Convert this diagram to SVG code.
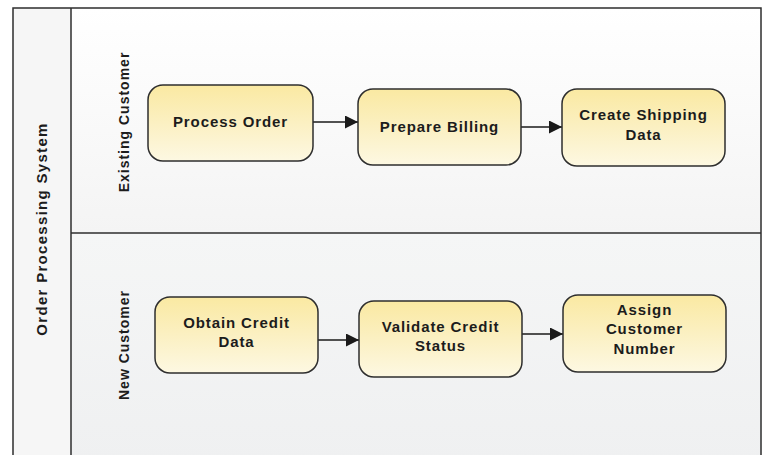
<svg xmlns="http://www.w3.org/2000/svg" width="763" height="455" viewBox="0 0 763 455">
<defs>
<linearGradient id="nodeFill" x1="0" y1="0" x2="0" y2="1">
<stop offset="0" stop-color="#fae9a2"/>
<stop offset="0.5" stop-color="#fbf0c2"/>
<stop offset="1" stop-color="#fdf8e2"/>
</linearGradient>
<linearGradient id="lane1" x1="0" y1="0" x2="0" y2="1">
<stop offset="0" stop-color="#ffffff"/>
<stop offset="1" stop-color="#f4f4f4"/>
</linearGradient>
<linearGradient id="lane2" x1="0" y1="0" x2="0" y2="1">
<stop offset="0" stop-color="#f5f6f6"/>
<stop offset="1" stop-color="#eff0f1"/>
</linearGradient>
<marker id="arrow" viewBox="0 0 13 13" refX="13" refY="6.5" markerWidth="13" markerHeight="13" markerUnits="userSpaceOnUse" orient="auto">
<path d="M0,0 L13,6.5 L0,13 Z" fill="#1a1a1a"/>
</marker>
<style>
.node rect{fill:url(#nodeFill);stroke:#2e2e2e;stroke-width:1.5}
.node text{font-family:"Liberation Sans",Arial,sans-serif;font-weight:bold;font-size:15px;letter-spacing:0.9px;fill:#1c1c1c;text-anchor:middle}
.lbl{font-family:"Liberation Sans",Arial,sans-serif;font-weight:bold;fill:#1c1c1c;text-anchor:middle}
.conn line{stroke:#1a1a1a;stroke-width:1.3;marker-end:url(#arrow)}
</style>
</defs>
<g id="pool">
<rect x="13" y="8" width="748" height="460" fill="#f6f6f6" stroke="none"/>
<rect x="71" y="8" width="690" height="225" fill="url(#lane1)"/>
<rect x="71" y="233" width="690" height="230" fill="url(#lane2)"/>
<rect x="13" y="8" width="748" height="460" fill="none" stroke="#2e2e2e" stroke-width="1.5"/>
<line x1="71" y1="8" x2="71" y2="455" stroke="#2e2e2e" stroke-width="1.5"/>
<line x1="71" y1="233" x2="761" y2="233" stroke="#2e2e2e" stroke-width="1.5"/>
<text class="lbl" font-size="15" letter-spacing="1.3" transform="translate(47,229) rotate(-90)">Order Processing System</text>
</g>
<g id="lane-existing">
<text class="lbl" font-size="14" letter-spacing="1" transform="translate(129,122) rotate(-90)">Existing Customer</text>
</g>
<g id="lane-new">
<text class="lbl" font-size="14" letter-spacing="1" transform="translate(129,345) rotate(-90)">New Customer</text>
</g>
<g class="conn" id="connectors">
<line x1="313" y1="122" x2="358" y2="122"/>
<line x1="521" y1="127" x2="562" y2="127"/>
<line x1="318" y1="340" x2="359" y2="340"/>
<line x1="522" y1="334" x2="563" y2="334"/>
</g>
<g class="node" id="process-order">
<rect x="148" y="85" width="165" height="76" rx="15"/>
<text x="230.5" y="127">Process Order</text>
</g>
<g class="node" id="prepare-billing">
<rect x="358" y="89" width="163" height="76" rx="15"/>
<text x="439.5" y="132">Prepare Billing</text>
</g>
<g class="node" id="create-shipping-data">
<rect x="562" y="89" width="163" height="77" rx="15"/>
<text x="643.5" y="120">Create Shipping</text>
<text x="643.5" y="140">Data</text>
</g>
<g class="node" id="obtain-credit-data">
<rect x="155" y="297" width="163" height="76" rx="15"/>
<text x="236.5" y="328">Obtain Credit</text>
<text x="236.5" y="347">Data</text>
</g>
<g class="node" id="validate-credit-status">
<rect x="359" y="301" width="163" height="76" rx="15"/>
<text x="440.5" y="332">Validate Credit</text>
<text x="440.5" y="351">Status</text>
</g>
<g class="node" id="assign-customer-number">
<rect x="563" y="295" width="163" height="77" rx="15"/>
<text x="644.5" y="315">Assign</text>
<text x="644.5" y="334">Customer</text>
<text x="644.5" y="354">Number</text>
</g>
</svg>
